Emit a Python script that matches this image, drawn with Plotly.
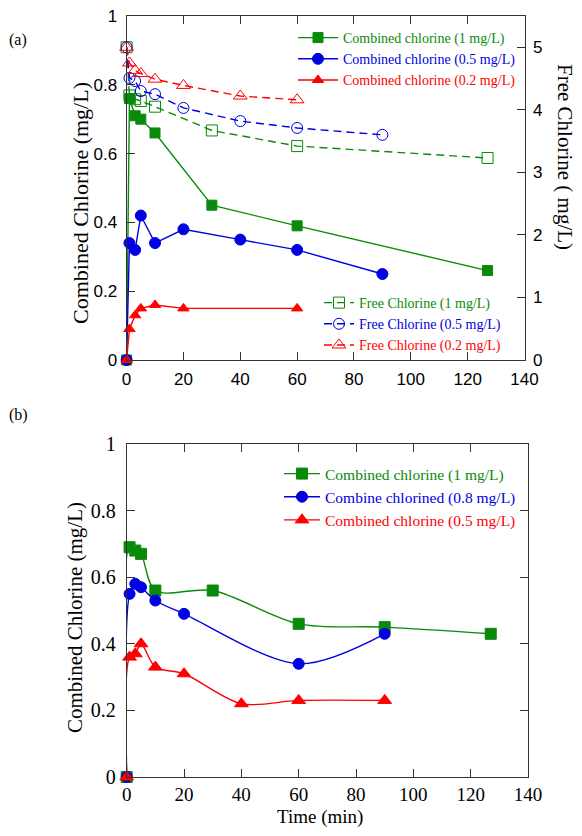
import plotly.graph_objects as go

# ---------------- Data: panel (a) ----------------
t_a_cc1 = [0, 1, 3, 5, 10, 30, 60, 127]
cc1_a = [0, 0.76, 0.71, 0.70, 0.66, 0.45, 0.39, 0.26]
t_a_cc05 = [0, 1, 3, 5, 10, 20, 40, 60, 90]
cc05_a = [0, 0.34, 0.32, 0.42, 0.34, 0.38, 0.35, 0.32, 0.25]
t_a_cc02 = [0, 1, 3, 5, 10, 20, 60]
cc02_a = [0, 0.09, 0.13, 0.15, 0.16, 0.15, 0.15]

t_a_fc1 = [0, 1, 3, 5, 10, 30, 60, 127]
fc1_a = [5.0, 4.23, 4.17, 4.14, 4.05, 3.67, 3.42, 3.23]
t_a_fc05 = [0, 1, 3, 5, 10, 20, 40, 60, 90]
fc05_a = [5.0, 4.51, 4.46, 4.30, 4.25, 4.03, 3.82, 3.71, 3.60]
t_a_fc02 = [0, 1, 3, 5, 10, 20, 40, 60]
fc02_a = [5.0, 4.75, 4.63, 4.58, 4.49, 4.39, 4.22, 4.16]

# ---------------- Data: panel (b) ----------------
t_b_cc1 = [0, 1, 3, 5, 10, 30, 60, 90, 127]
cc1_b = [0, 0.69, 0.68, 0.67, 0.56, 0.56, 0.46, 0.45, 0.43]
t_b_cc08 = [0, 1, 3, 5, 10, 20, 60, 90]
cc08_b = [0, 0.55, 0.58, 0.57, 0.53, 0.49, 0.34, 0.43]
t_b_cc05 = [0, 1, 3, 5, 10, 20, 40, 60, 90]
cc05_b = [0, 0.36, 0.37, 0.40, 0.33, 0.31, 0.22, 0.23, 0.23]

x_ticks = [0, 20, 40, 60, 80, 100, 120, 140]
y_ticks = [0, 0.2, 0.4, 0.6, 0.8, 1]
y_tick_text = ["0", "0.2", "0.4", "0.6", "0.8", "1"]
y2_ticks = [0, 1, 2, 3, 4, 5]

GREEN = "#0a8a0a"
BLUE = "#0000e0"
RED = "#ff0000"
SERIF = "Liberation Serif, Times New Roman, serif"
SANS = "Liberation Sans, Arial, sans-serif"
W, H = 582, 836


def col(text, c):
    return f'<span style="color:{c}">{text}</span>'


fig = go.Figure()


def add(x, y, name, color, symbol, xa, ya, legend, dash="solid", shape="linear", size=10, open_=False):
    fig.add_trace(go.Scatter(
        x=x, y=y, name=col(name, color), mode="lines+markers",
        xaxis=xa, yaxis=ya, legend=legend, cliponaxis=False,
        line=dict(color=color, width=1.4, dash=dash, shape=shape, smoothing=0.9),
        marker=dict(symbol=symbol + ("-open" if open_ else ""), size=size,
                    color=color, line=dict(color=color, width=1)),
    ))


# panel (a) combined
add(t_a_cc1, cc1_a, "Combined chlorine (1 mg/L)", GREEN, "square", "x", "y", "legend", size=10)
add(t_a_cc05, cc05_a, "Combined chlorine (0.5 mg/L)", BLUE, "circle", "x", "y", "legend", size=11)
add(t_a_cc02, cc02_a, "Combined chlorine (0.2 mg/L)", RED, "triangle-up", "x", "y", "legend", size=10)
# panel (a) free
add(t_a_fc1, fc1_a, "Free Chlorine (1 mg/L)", GREEN, "square", "x", "y2", "legend2", dash="8px,5px", size=11, open_=True)
add(t_a_fc05, fc05_a, "Free Chlorine (0.5 mg/L)", BLUE, "circle", "x", "y2", "legend2", dash="8px,5px", size=11, open_=True)
add(t_a_fc02, fc02_a, "Free Chlorine (0.2 mg/L)", RED, "triangle-up", "x", "y2", "legend2", dash="8px,5px", size=12, open_=True)
# panel (b)
add(t_b_cc1, cc1_b, "Combined chlorine (1 mg/L)", GREEN, "square", "x2", "y3", "legend3", shape="spline", size=11)
add(t_b_cc08, cc08_b, "Combine chlorined (0.8 mg/L)", BLUE, "circle", "x2", "y3", "legend3", shape="spline", size=11)
add(t_b_cc05, cc05_b, "Combined chlorine (0.5 mg/L)", RED, "triangle-up", "x2", "y3", "legend3", shape="spline", size=12)

AX = "#333333"
common = dict(showline=True, linecolor=AX, linewidth=1, ticks="inside", ticklen=8,
              tickcolor=AX, showgrid=False, zeroline=False, automargin=False)

fig.update_layout(
    template="none",
    width=W, height=H, margin=dict(l=0, r=0, t=0, b=0, autoexpand=False),
    paper_bgcolor="white", plot_bgcolor="white",
    xaxis=dict(domain=[126.6 / W, 524.5 / W], range=[0, 140], tickvals=x_ticks, anchor="y",
               mirror="ticks", tickfont=dict(family=SANS, size=17, color="black"),
               ticklabelstandoff=4, **common),
    yaxis=dict(domain=[1 - 360 / H, 1 - 16 / H], range=[0, 1], tickvals=y_ticks, ticktext=y_tick_text,
               anchor="x", tickfont=dict(family=SANS, size=17, color="black"),
               ticklabelstandoff=5, **common),
    yaxis2=dict(overlaying="y", side="right", range=[0, 5.5], tickvals=y2_ticks, anchor="x",
                tickfont=dict(family=SANS, size=17, color="black"), ticklabelstandoff=4, **common),
    xaxis2=dict(domain=[126.7 / W, 528 / W], range=[0, 140], tickvals=x_ticks, anchor="y3",
                mirror="ticks", tickfont=dict(family=SERIF, size=19, color="black"),
                ticklabelstandoff=0, **common),
    yaxis3=dict(domain=[1 - 777 / H, 1 - 444 / H], range=[0, 1], tickvals=y_ticks, ticktext=y_tick_text,
                anchor="x2", mirror="ticks", tickfont=dict(family=SERIF, size=20, color="black"),
                ticklabelstandoff=6, **common),
    showlegend=True,
    legend=dict(x=293 / W, y=1 - 22 / H, xanchor="left", yanchor="top",
                font=dict(family=SERIF, size=14, color="black"), bgcolor="rgba(0,0,0,0)",
                itemwidth=40, tracegroupgap=0),
    legend2=dict(x=319 / W, y=1 - 287 / H, xanchor="left", yanchor="top",
                 font=dict(family=SERIF, size=14, color="black"), bgcolor="rgba(0,0,0,0)",
                 itemwidth=30, tracegroupgap=0),
    legend3=dict(x=279 / W, y=1 - 457 / H, xanchor="left", yanchor="top",
                 font=dict(family=SERIF, size=15.5, color="black"), bgcolor="rgba(0,0,0,0)",
                 itemwidth=36, tracegroupgap=0),
)

ann = [
    dict(text="(a)", x=18 / W, y=1 - 40 / H, font=dict(family=SERIF, size=16)),
    dict(text="(b)", x=18 / W, y=1 - 415 / H, font=dict(family=SERIF, size=16)),
    dict(text="Combined Chlorine (mg/L)", x=80 / W, y=1 - 203 / H, textangle=-90,
         font=dict(family=SERIF, size=22)),
    dict(text="Free Chlorine ( mg/L)", x=565 / W, y=1 - 157 / H, textangle=90,
         font=dict(family=SERIF, size=21)),
    dict(text="Combined Chlorine (mg/L)", x=75 / W, y=1 - 617 / H, textangle=-90,
         font=dict(family=SERIF, size=21)),
    dict(text="Time (min)", x=320 / W, y=1 - 817 / H, font=dict(family=SERIF, size=19)),
]
for a in ann:
    a.update(xref="paper", yref="paper", showarrow=False, xanchor="center", yanchor="middle")
    a["font"]["color"] = "black"
fig.update_layout(annotations=ann)

fig.write_html("out.html")
